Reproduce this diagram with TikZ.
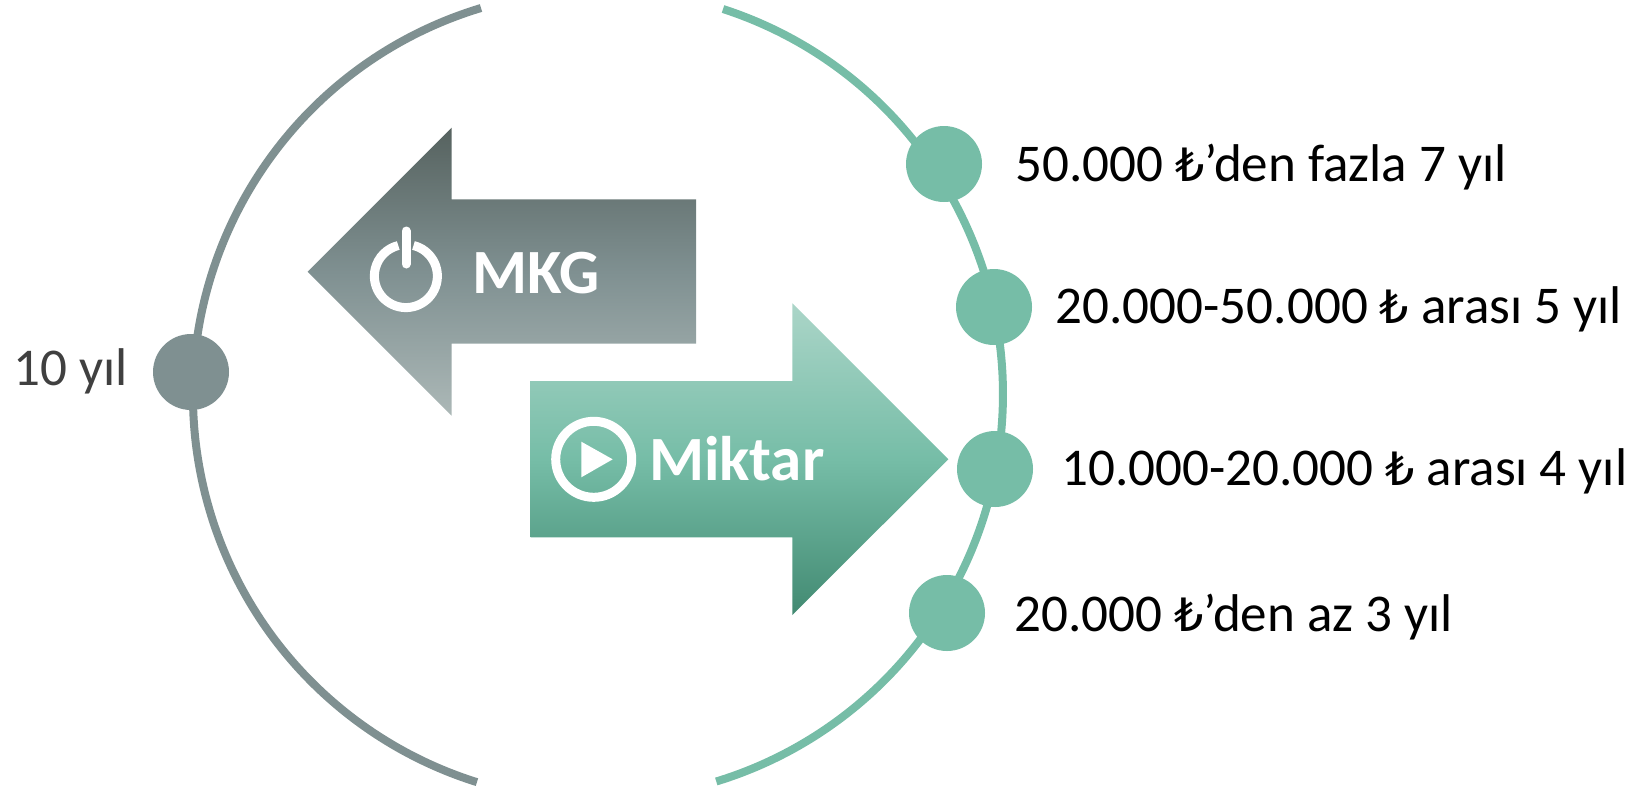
\documentclass[tikz,border=0pt]{standalone}
\usepackage{fontspec}
\setmainfont{Carlito}
\newfontfamily\lirafont{DejaVu Sans}
\newcommand{\lira}{{\lirafont\fontsize{46}{50}\selectfont ₺}}
\definecolor{greyarc}{HTML}{7F9091}
\definecolor{greenarc}{HTML}{76BDA7}
\definecolor{labelgrey}{HTML}{404040}
\definecolor{greytop}{HTML}{56625F}
\definecolor{greybot}{HTML}{ACB8B7}
\definecolor{greentop}{HTML}{ABD5C8}
\definecolor{greenbot}{HTML}{428A72}
\tikzset{
  greyring/.style={draw=greyarc,line width=8pt},
  greenring/.style={draw=greenarc,line width=8pt},
  dot/.style={circle,minimum size=76pt,inner sep=0pt,draw=none},
  greydot/.style={dot,fill=greyarc},
  greendot/.style={dot,fill=greenarc},
  label/.style={anchor=base west,inner sep=0pt,font=\fontsize{53.1}{60}\selectfont,text=black},
  arrowtext/.style={anchor=base west,inner sep=0pt,font=\fontsize{63}{70}\selectfont\bfseries,text=white},
  icon/.style={draw=white,line width=9pt},
}
\begin{document}
\begin{tikzpicture}[x=1pt,y=-1pt]
\useasboundingbox (0,0) rectangle (1637,788);
% rings
\draw[greyring] (481,8) arc[start angle=106.8,end angle=252.6,radius=405pt,y=1pt];
\draw[greenring] (723,9) arc[start angle=72,end angle=-73,radius=405pt,y=1pt];
% arrows
\shade[top color=greytop,bottom color=greybot,middle color=greyarc]
  (307.7,271.7) -- (451.7,127.7) -- (451.7,199.3) -- (696,199.3) -- (696,343.7) -- (451.7,343.7) -- (451.7,415.7) -- cycle;
\shade[top color=greentop,bottom color=greenbot,middle color=greenarc]
  (948.3,459.3) -- (792.3,303.3) -- (792.3,381) -- (530.7,381) -- (530.7,537.3) -- (792.3,537.3) -- (792.3,615) -- cycle;
% power icon
\draw[icon] (413.5,245.5) arc[start angle=76,end angle=-256,radius=31.5pt];
\draw[icon,line cap=round] (406,231) -- (406,264);
\node[arrowtext] (mkg) at (472.5,293.3) {MKG};
% play icon
\draw[icon] (593.7,459.3) circle[radius=38pt];
\fill[white] (581.3,441.7) -- (581.3,477.3) -- (612.7,459.3) -- cycle;
\node[arrowtext] (miktar) at (649,480.7) {Miktar};
% dots
\node[greydot] (d0) at (191,372) {};
\node[greendot] (d1) at (944,164) {};
\node[greendot] (d2) at (994,307) {};
\node[greendot] (d3) at (995,469) {};
\node[greendot] (d4) at (947,613) {};
% labels
\node[label,text=labelgrey] (l0) at (13,385) {10 yıl};
\node[label] (l1) at (1015,181.7) {50.000 \lira’den fazla 7 yıl};
\node[label] (l2) at (1055.5,323) {20.000-50.000 \lira{} arası 5 yıl};
\node[label] (l3) at (1061,485.7) {10.000-20.000 \lira{} arası 4 yıl};
\node[label] (l4) at (1014,631) {20.000 \lira’den az 3 yıl};
\end{tikzpicture}
\end{document}
